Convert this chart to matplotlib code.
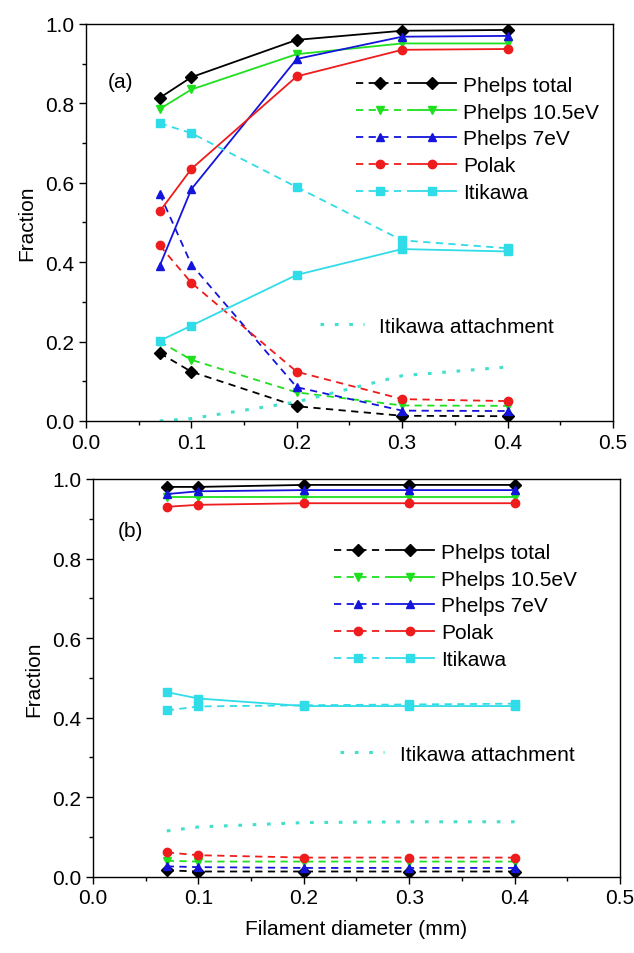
import matplotlib
matplotlib.use("Agg")
import matplotlib.pyplot as plt
from matplotlib.legend_handler import HandlerTuple
from matplotlib.ticker import MultipleLocator

plt.rcParams['font.family'] = ['Liberation Sans', 'DejaVu Sans']

diameters = [0.07, 0.1, 0.2, 0.3, 0.4]
labels = ['Phelps total', 'Phelps 10.5eV', 'Phelps 7eV', 'Polak', 'Itikawa']
colors = ['black', '#1ee01e', '#1414dc', '#ee1c1c', '#30dce8']
markers = ['D', 'v', '^', 'o', 's']
attach_color = '#40e0cc'

# panel (a): solid / dashed pairs, same order as labels
a_solid = [
    [0.814, 0.866, 0.960, 0.983, 0.985],
    [0.786, 0.835, 0.924, 0.951, 0.951],
    [0.391, 0.584, 0.912, 0.968, 0.970],
    [0.528, 0.635, 0.868, 0.935, 0.937],
    [0.202, 0.240, 0.368, 0.433, 0.427],
]
a_dashed = [
    [0.171, 0.124, 0.037, 0.013, 0.012],
    [0.200, 0.154, 0.072, 0.039, 0.038],
    [0.572, 0.394, 0.085, 0.026, 0.025],
    [0.442, 0.348, 0.124, 0.055, 0.050],
    [0.750, 0.725, 0.589, 0.455, 0.435],
]
a_attach = [0.0, 0.006, 0.048, 0.114, 0.136]

# panel (b)
b_solid = [
    [0.980, 0.980, 0.985, 0.985, 0.985],
    [0.954, 0.954, 0.954, 0.954, 0.954],
    [0.962, 0.969, 0.972, 0.972, 0.972],
    [0.930, 0.935, 0.939, 0.939, 0.939],
    [0.464, 0.448, 0.429, 0.429, 0.429],
]
b_dashed = [
    [0.016, 0.013, 0.013, 0.013, 0.013],
    [0.040, 0.038, 0.038, 0.038, 0.038],
    [0.026, 0.024, 0.022, 0.022, 0.022],
    [0.061, 0.054, 0.048, 0.048, 0.048],
    [0.418, 0.428, 0.431, 0.433, 0.435],
]
b_attach = [0.115, 0.125, 0.136, 0.138, 0.138]

fs = 15


def draw_panel(ax, solid, dashed, attach, tag, tag_xy, leg_xy, att_xy):
    handles = []
    for i in range(len(labels)):
        d, = ax.plot(diameters, dashed[i], color=colors[i], marker=markers[i],
                     ms=6, lw=1.3, dashes=(4, 3))
        s, = ax.plot(diameters, solid[i], color=colors[i], marker=markers[i],
                     ms=6, lw=1.3)
        handles.append((d, s))
    att, = ax.plot(diameters, attach, color=attach_color, lw=2.2, dashes=(1.2, 3.5))

    ax.set_xlim(0, 0.5)
    ax.set_ylim(0, 1.0)
    ax.xaxis.set_major_locator(MultipleLocator(0.1))
    ax.xaxis.set_minor_locator(MultipleLocator(0.05))
    ax.yaxis.set_major_locator(MultipleLocator(0.2))
    ax.yaxis.set_minor_locator(MultipleLocator(0.1))
    ax.tick_params(which='major', direction='out', length=5, width=1, labelsize=fs)
    ax.tick_params(which='minor', direction='out', length=3, width=1)
    for sp in ax.spines.values():
        sp.set_linewidth(1.0)
    ax.set_ylabel('Fraction', fontsize=fs, labelpad=6)
    ax.text(tag_xy[0], tag_xy[1], tag, transform=ax.transAxes, fontsize=fs,
            va='center', ha='left')

    leg = ax.legend(handles, labels, handler_map={tuple: HandlerTuple(ndivide=None, pad=0.2)},
                    loc='upper left', bbox_to_anchor=leg_xy, frameon=False,
                    fontsize=fs, handlelength=4.8, handletextpad=0.35,
                    labelspacing=0.38, borderpad=0, borderaxespad=0, numpoints=1)
    ax.add_artist(leg)
    ax.legend([att], ['Itikawa attachment'], loc='upper left', bbox_to_anchor=att_xy,
              frameon=False, fontsize=fs, handlelength=2.1, handletextpad=0.75,
              borderpad=0, borderaxespad=0)


fig = plt.figure(figsize=(6.34, 9.54), dpi=100)
ax_a = fig.add_axes([0.1356, 0.5577, 0.8312, 0.4161])
ax_b = fig.add_axes([0.1467, 0.0800, 0.8312, 0.4169])

draw_panel(ax_a, a_solid, a_dashed, a_attach, '(a)', (0.042, 0.856),
           (0.512, 0.87), (0.444, 0.263))
draw_panel(ax_b, b_solid, b_dashed, b_attach, '(b)', (0.047, 0.87),
           (0.457, 0.84), (0.469, 0.332))
ax_b.set_xlabel('Filament diameter (mm)', fontsize=fs, labelpad=8)

fig.savefig('out.png', dpi=100)
